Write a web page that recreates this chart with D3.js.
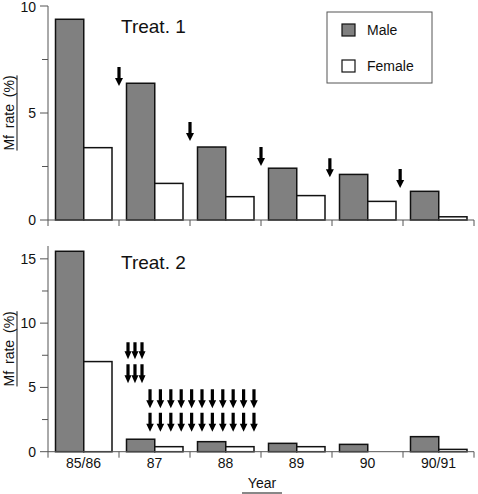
<!DOCTYPE html>
<html><head><meta charset="utf-8">
<script src="https://cdn.jsdelivr.net/npm/d3@7"></script>
<style>body{margin:0;background:#fff}svg{display:block}text{font-family:"Liberation Sans",Arial,sans-serif;fill:#111}</style>
</head><body>
<svg id="c" width="478" height="494"></svg>
<script>
const categories = ["85/86","87","88","89","90","90/91"];
const series = ["Male","Female"];
const t1Male   = [9.38, 6.39, 3.41, 2.42, 2.13, 1.34];
const t1Female = [3.38, 1.71, 1.09, 1.14, 0.87, 0.15];
const t2Male   = [15.59, 0.97, 0.78, 0.65, 0.57, 1.17];
const t2Female = [7.01, 0.39, 0.39, 0.39, 0.00, 0.18];
const t1Ticks = [0, 5, 10];
const t1Minor = [2.5, 7.5];
const t2Ticks = [0, 5, 10, 15];
const t2Minor = [2.5, 7.5, 12.5];
// treatment arrows: position on year axis (category index) and tip value
const t1ArrowPos = [1.0, 2.0, 3.0, 3.97, 4.96];
const t1ArrowTip = [6.26, 3.69, 2.52, 2.0, 1.5];
const t2ArrowPosA = [1.127, 1.225, 1.324];
const t2ArrowTipA = [7.2, 5.33];
const t2ArrowPosB = [1.437, 1.583, 1.730, 1.876, 2.023, 2.169, 2.315, 2.462, 2.608, 2.755, 2.901];
const t2ArrowTipB = [3.38, 1.56];

const svg = d3.select("#c");
const X0 = 48, X1 = 474;
const x = d3.scaleBand().domain(categories).range([X0, X1]);
const xs = d3.scaleBand().domain(series).range([7.5, 64]);
const xi = d3.scaleLinear().domain([0, categories.length]).range([X0, X1]);
const axisCol = "#555";

function arrow(g, cx, tipY, len, hw) {
  const sw = 1.6, hl = 8;
  g.append("path")
    .attr("d", `M${cx-sw},${tipY-len}L${cx+sw},${tipY-len}L${cx+sw},${tipY-hl}L${cx+hw},${tipY-hl}L${cx},${tipY}L${cx-hw},${tipY-hl}L${cx-sw},${tipY-hl}Z`)
    .attr("fill", "#000");
}

function panel(cfg) {
  const y = d3.scaleLinear().domain(cfg.domain).range(cfg.range);
  const g = svg.append("g");
  // bars
  categories.forEach((c, i) => {
    [["Male", cfg.male[i], "#808080"], ["Female", cfg.female[i], "#fff"]].forEach(([s, v, f]) => {
      g.append("rect")
        .attr("x", x(c) + xs(s)).attr("width", xs.bandwidth())
        .attr("y", y(v)).attr("height", y(0) - y(v))
        .attr("fill", f).attr("stroke", "#111").attr("stroke-width", 1.5);
    });
  });
  // y axis
  g.append("line").attr("x1", X0).attr("x2", X0).attr("y1", y(0)).attr("y2", cfg.range[1])
    .attr("stroke", axisCol).attr("stroke-width", 1);
  cfg.ticks.forEach(t => {
    g.append("line").attr("x1", X0 - 8).attr("x2", X0).attr("y1", y(t)).attr("y2", y(t)).attr("stroke", axisCol);
    g.append("text").attr("x", 36).attr("y", Math.max(y(t), 7)).attr("dy", "0.36em").attr("text-anchor", "end")
      .attr("font-size", 14).text(t);
  });
  cfg.minor.forEach(t => {
    g.append("line").attr("x1", X0 - 6).attr("x2", X0).attr("y1", y(t)).attr("y2", y(t)).attr("stroke", axisCol);
  });
  // x axis
  g.append("line").attr("x1", X0).attr("x2", X1).attr("y1", y(0)).attr("y2", y(0)).attr("stroke", axisCol);
  d3.range(categories.length + 1).forEach(k => {
    g.append("line").attr("x1", xi(k)).attr("x2", xi(k)).attr("y1", y(0)).attr("y2", y(0) + 6).attr("stroke", axisCol);
  });
  // title
  g.append("text").attr("x", 121).attr("y", cfg.titleY).attr("font-size", 19).text(cfg.title);
  // y label
  const cy = (y(0) + cfg.range[1]) / 2;
  const lab = g.append("text").attr("transform", `translate(14,${cy}) rotate(-90)`)
    .attr("text-anchor", "middle").attr("font-size", 14).attr("word-spacing", 3).text("Mf rate (%)");
  const L = lab.node().getComputedTextLength();
  g.append("line").attr("x1", 17).attr("x2", 17).attr("y1", cy - L / 2).attr("y2", cy + L / 2)
    .attr("stroke", "#111").attr("stroke-width", 1);
  cfg.arrows(g, y);
  return y;
}

panel({
  domain: [0, 10], range: [220, 6], male: t1Male, female: t1Female,
  ticks: t1Ticks, minor: t1Minor, title: "Treat. 1", titleY: 33,
  arrows: (g, y) => t1ArrowPos.forEach((p, i) => arrow(g, xi(p), y(t1ArrowTip[i]), 19, 4))
});

panel({
  domain: [0, 16], range: [451.7, 246], male: t2Male, female: t2Female,
  ticks: t2Ticks, minor: t2Minor, title: "Treat. 2", titleY: 269,
  arrows: (g, y) => {
    t2ArrowTipA.forEach((tv, r) => t2ArrowPosA.forEach(p => arrow(g, xi(p), y(tv), r === 0 ? 17 : 19, 3.5)));
    t2ArrowTipB.forEach(tv => t2ArrowPosB.forEach(p => arrow(g, xi(p), y(tv), 19, 3.8)));
  }
});

// category labels
categories.forEach(c => {
  svg.append("text").attr("x", x(c) + x.bandwidth() / 2).attr("y", 468).attr("text-anchor", "middle")
    .attr("font-size", 14).text(c);
});
svg.append("text").attr("x", 262).attr("y", 488).attr("text-anchor", "middle").attr("font-size", 14).text("Year");
svg.append("line").attr("x1", 242).attr("x2", 282).attr("y1", 493).attr("y2", 493).attr("stroke", "#111");

// legend
const lg = svg.append("g");
lg.append("rect").attr("x", 327).attr("y", 12).attr("width", 105).attr("height", 71)
  .attr("fill", "#fff").attr("stroke", axisCol).attr("stroke-width", 1);
series.forEach((s, i) => {
  const yy = 24 + i * 36;
  lg.append("rect").attr("x", 342).attr("y", yy).attr("width", 13).attr("height", 12)
    .attr("fill", i === 0 ? "#808080" : "#fff").attr("stroke", "#111").attr("stroke-width", 1.2);
  lg.append("text").attr("x", 367).attr("y", yy + 6).attr("dy", "0.36em").attr("font-size", 14).text(s);
});
</script>
</body></html>
